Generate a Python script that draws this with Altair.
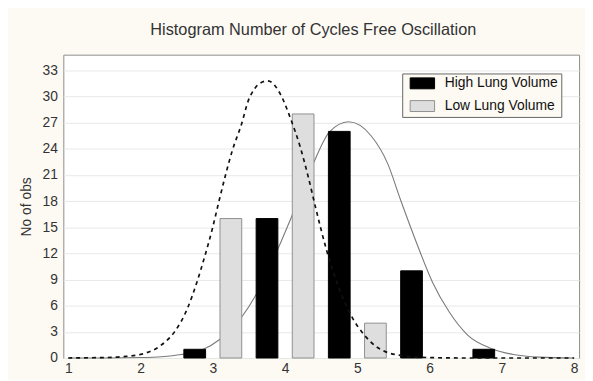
import altair as alt
import pandas as pd

# ---- data ----
series = ["High Lung Volume", "Low Lung Volume"]

high_x = [2.75, 3.75, 4.75, 5.75, 6.75]
high_n = [1, 16, 26, 10, 1]
low_x = [3.25, 4.25, 5.25]
low_n = [16, 28, 4]

# fitted normal curves
high_curve_x = [1.0, 1.5, 2.0, 2.29, 2.56, 2.87, 3.09, 3.40, 3.58, 3.90, 4.10, 4.39,
                4.61, 4.88, 5.19, 5.42, 5.60, 5.82, 6.04, 6.27, 6.53, 6.85, 7.16, 7.52, 8.0]
high_curve_y = [0.0, 0.0, 0.05, 0.15, 0.4, 1.0, 2.1, 4.7, 7.0, 12.5, 16.4, 22.3,
                25.9, 27.1, 25.5, 22.3, 18.1, 13.2, 8.7, 5.3, 2.6, 1.1, 0.4, 0.1, 0.0]

low_curve_x = [1.0, 1.2, 1.5, 1.75, 2.02, 2.29, 2.47, 2.65, 2.78, 2.89, 2.99, 3.08,
               3.17, 3.27, 3.40, 3.49, 3.58, 3.63, 3.76, 3.94, 4.07, 4.21, 4.32, 4.43,
               4.57, 4.90, 5.10, 5.28, 5.44, 5.60, 5.80, 6.00, 6.50, 7.0, 7.5, 8.0]
low_curve_y = [0.0, 0.02, 0.05, 0.15, 0.45, 1.5, 3.0, 5.7, 8.7, 11.7, 14.7, 17.8,
               20.8, 23.8, 26.9, 29.5, 30.9, 31.4, 31.8, 30.2, 27.6, 24.2, 20.8, 17.0,
               12.5, 5.1, 2.6, 1.2, 0.57, 0.3, 0.1, 0.05, 0.0, 0.0, 0.0, 0.0]

x_ticks = [1, 2, 3, 4, 5, 6, 7, 8]
y_ticks = [0, 3, 6, 9, 12, 15, 18, 21, 24, 27, 30, 33]

title_text = "Histogram Number of Cycles Free Oscillation"
y_title = "No of obs"

# ---- tables ----
bars = pd.DataFrame({
    "x": high_x + low_x,
    "n": high_n + low_n,
    "series": [series[0]] * len(high_x) + [series[1]] * len(low_x),
})
high_curve = pd.DataFrame({"x": high_curve_x, "y": high_curve_y})
low_curve = pd.DataFrame({"x": low_curve_x, "y": low_curve_y})

FONT = "Liberation Sans"
xscale = alt.Scale(domain=[1, 8], nice=False, zero=False)
yscale = alt.Scale(domain=[0, 34.8], nice=False)

x_axis = alt.Axis(values=x_ticks, title=None, ticks=False, domain=False, grid=False,
                  labelFont=FONT, labelFontSize=14, labelColor="#333333",
                  labelPadding=4, format="d", labelFlush=False)
y_axis = alt.Axis(values=y_ticks, title=y_title, ticks=False, domain=False, grid=True,
                  gridColor="#e8e8e8", gridWidth=1,
                  labelFont=FONT, labelFontSize=14, labelColor="#333333",
                  labelPadding=6, titleFont=FONT, titleFontSize=14,
                  titleFontWeight="normal", titleColor="#333333", titlePadding=9)

color_scale = alt.Scale(domain=series, range=["#000000", "#dedede"])
stroke_scale = alt.Scale(domain=series, range=["#000000", "#8f8f8f"])

solid = alt.Chart(high_curve).mark_line(color="#7a7a7a", strokeWidth=1.1,
                                        interpolate="monotone").encode(
    x=alt.X("x:Q", scale=xscale, axis=x_axis),
    y=alt.Y("y:Q", scale=yscale, axis=y_axis),
)

bar_layer = alt.Chart(bars).mark_bar(size=22, strokeWidth=1).encode(
    x=alt.X("x:Q", scale=xscale, axis=x_axis),
    y=alt.Y("n:Q", scale=yscale, axis=y_axis),
    y2=alt.datum(0),
    color=alt.Color("series:N", scale=color_scale, legend=alt.Legend(
        title=None, orient="none", legendX=343, legendY=19,
        fillColor="#fdfaf4", strokeColor="#666666", padding=3,
        labelFont=FONT, labelFontSize=14, labelColor="#111111",
        symbolType="M-0.3,-0.85H3.5V0.85H-0.3Z", symbolSize=169,
        symbolStrokeColor="#444444", symbolStrokeWidth=1,
        rowPadding=7, labelOffset=26)),
    stroke=alt.Stroke("series:N", scale=stroke_scale, legend=None),
)

dashed = alt.Chart(low_curve).mark_line(color="#111111", strokeWidth=1.7,
                                        strokeDash=[4, 4],
                                        interpolate="monotone").encode(
    x=alt.X("x:Q", scale=xscale, axis=x_axis),
    y=alt.Y("y:Q", scale=yscale, axis=y_axis),
)

chart = alt.layer(solid, bar_layer, dashed).properties(
    width=522, height=307,
    title=alt.TitleParams(title_text, font=FONT, fontSize=16.5, fontWeight="normal",
                          color="#333333", anchor="middle", offset=16, dx=-8),
    background="#fdfaf4",
    padding={"left": 56, "top": 45, "right": 6, "bottom": 20},
    autosize=alt.AutoSizeParams(type="none"),
).configure_view(stroke="#8c8c8c", fill="white")

chart.save("out.html", embed_options={"renderer": "svg", "actions": False})
